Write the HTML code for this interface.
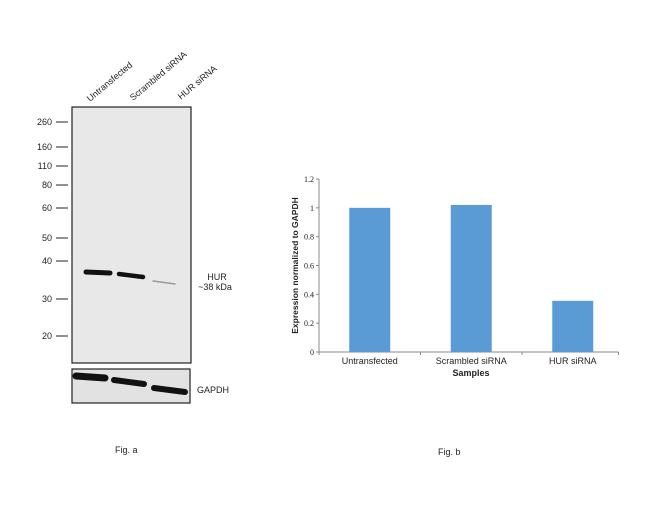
<!DOCTYPE html>
<html><head><meta charset="utf-8"><style>
body{margin:0;width:650px;height:505px;background:#fff;font-family:"Liberation Sans",sans-serif;position:relative;overflow:hidden}
</style></head><body>
<svg width="650" height="505" style="position:absolute;left:0;top:0">
 <g>
  <rect x="72" y="107" width="119" height="256" fill="#e8e8e8" stroke="#222" stroke-width="1.2"/>
  <rect x="72" y="369" width="118" height="34" fill="#e2e2e2" stroke="#222" stroke-width="1.2"/>
  <g font-size="9" fill="#222" text-anchor="end">
   <text x="52" y="125">260</text><line x1="56" y1="122" x2="68" y2="122" stroke="#222"/>
   <text x="52" y="150">160</text><line x1="56" y1="147" x2="68" y2="147" stroke="#222"/>
   <text x="52" y="169">110</text><line x1="56" y1="166" x2="68" y2="166" stroke="#222"/>
   <text x="52" y="188">80</text><line x1="56" y1="185" x2="68" y2="185" stroke="#222"/>
   <text x="52" y="211">60</text><line x1="56" y1="208" x2="68" y2="208" stroke="#222"/>
   <text x="52" y="241">50</text><line x1="56" y1="238" x2="68" y2="238" stroke="#222"/>
   <text x="52" y="264">40</text><line x1="56" y1="261" x2="68" y2="261" stroke="#222"/>
   <text x="52" y="302">30</text><line x1="56" y1="299" x2="68" y2="299" stroke="#222"/>
   <text x="52" y="339">20</text><line x1="56" y1="336" x2="68" y2="336" stroke="#222"/>
  </g>
  <g stroke-linecap="round">
   <path d="M86 272 L110 273" stroke="#111" stroke-width="5"/>
   <path d="M119 274 L143 277" stroke="#111" stroke-width="4.5"/>
   <path d="M153 281 L175 284" stroke="#999" stroke-width="1.5"/>
  </g>
  <g stroke-linecap="round">
   <path d="M76 376 L105 378" stroke="#111" stroke-width="7"/>
   <path d="M114 380 L144 384" stroke="#111" stroke-width="6"/>
   <path d="M154 388 L185 392" stroke="#111" stroke-width="6"/>
  </g>
  <g font-size="9" fill="#222">
   <text transform="translate(90,102) rotate(-40)">Untransfected</text>
   <text transform="translate(133,101) rotate(-40)">Scrambled siRNA</text>
   <text transform="translate(181,100) rotate(-40)">HUR siRNA</text>
  </g>
  <text x="217" y="280" font-size="9" fill="#222" text-anchor="middle">HUR</text>
  <text x="215" y="290" font-size="9" fill="#222" text-anchor="middle">~38 kDa</text>
  <text x="197" y="393" font-size="9" fill="#222">GAPDH</text>
  <text x="115" y="453" font-size="9" fill="#222">Fig. a</text>
 </g>
 <g id="chart"></g>
 <text x="438" y="455" font-size="9" fill="#222">Fig. b</text>
</svg>
<script>
const categories=["Untransfected","Scrambled siRNA","HUR siRNA"];
const values=[1.0,1.02,0.355];
const ticks=[0,0.2,0.4,0.6,0.8,1,1.2];
const ns="http://www.w3.org/2000/svg";
const g=document.getElementById('chart');
const x0=319,yTop=179,y0=352,ymax=1.2;
const bw=101.5;
const x1=x0+bw*categories.length-5;
const y=v=>y0-(v/ymax)*(y0-yTop);
function mk(t,a,txt){const e=document.createElementNS(ns,t);for(const k in a)e.setAttribute(k,a[k]);if(txt!==undefined)e.textContent=txt;g.appendChild(e);return e;}
const ya=mk('line',{x1:x0,y1:yTop,x2:x0,y2:y0,stroke:'#888'});


const xa=mk('line',{x1:x0,y1:y0,x2:x1,y2:y0,stroke:'#888'});


ticks.forEach(t=>{
 mk('line',{x1:x0-3,y1:y(t),x2:x0,y2:y(t),stroke:'#888'});
 const l=mk('text',{x:x0-5,y:y(t)+3,'font-size':8,'font-family':'Liberation Serif',fill:'#222','text-anchor':'end'},String(t));
 
 
});
for(let i=0;i<=categories.length;i++)mk('line',{x1:Math.min(x0+i*bw,x1),y1:y0,x2:Math.min(x0+i*bw,x1),y2:y0+3,stroke:'#888'});
categories.forEach((c,i)=>{
 const cx=x0+bw*(i+0.5);
 const r=mk('rect',{x:cx-20.5,y:y(values[i]),width:41,height:y0-y(values[i]),fill:'#5b9bd5'});
 
 
 const l=mk('text',{x:cx,y:y0+12,'font-size':9,fill:'#222','text-anchor':'middle'},c);
 
 
});
const xt=mk('text',{x:471,y:y0+24,'font-size':9,'font-weight':'bold',fill:'#222','text-anchor':'middle'},'Samples');


const yt=mk('text',{transform:'translate(298,'+(y0+yTop)/2+') rotate(-90)','font-size':8.5,'font-weight':'bold',fill:'#222','text-anchor':'middle'},'Expression  normalized to GAPDH');


</script>
</body></html>
